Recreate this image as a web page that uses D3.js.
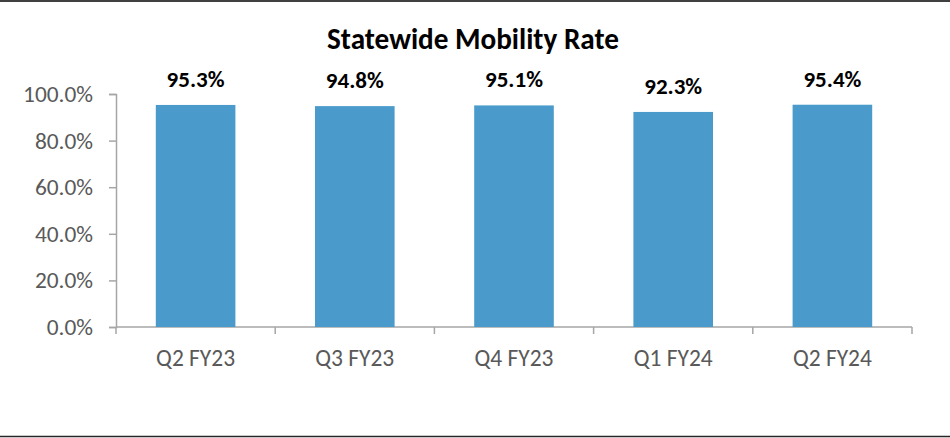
<!DOCTYPE html>
<html>
<head>
<meta charset="utf-8">
<script src="https://cdn.jsdelivr.net/npm/d3@7"></script>
<style>
  body { margin: 0; background: #fff; }
  svg { display: block; font-family: Calibri, Carlito, Lato, sans-serif; }
</style>
</head>
<body>
<div id="chart"></div>
<script>
const categories = ["Q2 FY23", "Q3 FY23", "Q4 FY23", "Q1 FY24", "Q2 FY24"];
const rates = [95.3, 94.8, 95.1, 92.3, 95.4];
const yTicks = [0, 20, 40, 60, 80, 100];
const title = "Statewide Mobility Rate";

const W = 950, H = 438;
const margin = { top: 94, right: 38, bottom: 111, left: 116 };
const width = W - margin.left - margin.right;
const height = H - margin.top - margin.bottom;

const svg = d3.select("#chart")
  .append("svg")
  .attr("width", W)
  .attr("height", H);

// фит текста по ширине
function fit(sel, target) {
  sel.each(function () {
    const len = this.getComputedTextLength();
    const fs = parseFloat(d3.select(this).style("font-size"));
    d3.select(this).style("font-size", (fs * target / len) + "px");
  });
}

// рамка сверху и снизу
svg.append("line").attr("x1", 0).attr("x2", W).attr("y1", 1).attr("y2", 1)
  .attr("stroke", "#404040").attr("stroke-width", 2);
svg.append("line").attr("x1", 0).attr("x2", W).attr("y1", 436.5).attr("y2", 436.5)
  .attr("stroke", "#262626").attr("stroke-width", 1.5);

svg.append("text")
  .attr("x", 473)
  .attr("y", 49)
  .attr("text-anchor", "middle")
  .style("font-size", "24px")
  .style("font-weight", "bold")
  .attr("fill", "#000")
  .text(title)
  .call(fit, 292);

const g = svg.append("g")
  .attr("transform", `translate(${margin.left},${margin.top})`);

const x = d3.scaleBand()
  .domain(categories)
  .range([0, width])
  .paddingInner(0.5)
  .paddingOuter(0.25);

const y = d3.scaleLinear()
  .domain([0, 100])
  .range([height, 0]);

const axisColor = "#a6a6a6";

// Ось Y
const yAxis = g.append("g")
  .call(d3.axisLeft(y).tickValues(yTicks).tickSize(7).tickPadding(16)
    .tickFormat(d => d.toFixed(1) + "%"));
yAxis.select(".domain").attr("stroke", axisColor).attr("stroke-width", 1.5);
yAxis.selectAll(".tick line").attr("stroke", axisColor).attr("stroke-width", 1.5);
yAxis.selectAll(".tick text")
  .attr("fill", "#595959")
  .style("font-family", "Calibri, Carlito, Lato, sans-serif")
  .style("font-size", "20px");
yAxis.selectAll(".tick text").filter(d => d === 100).call(fit, 70);
const yfs = yAxis.selectAll(".tick text").filter(d => d === 100).style("font-size");
yAxis.selectAll(".tick text").style("font-size", yfs);

// Ось X
const xPos = d3.scaleLinear().domain([0, categories.length]).range([0, width]);
const xAxis = g.append("g")
  .attr("transform", `translate(0,${height})`);
xAxis.append("line")
  .attr("x1", 0).attr("x2", width)
  .attr("stroke", axisColor).attr("stroke-width", 1.5);
xAxis.selectAll(".sep")
  .data(d3.range(categories.length + 1))
  .enter()
  .append("line")
  .attr("x1", d => xPos(d)).attr("x2", d => xPos(d))
  .attr("y1", 0).attr("y2", 7)
  .attr("stroke", axisColor).attr("stroke-width", 1.5);
const xLabels = xAxis.selectAll(".lbl")
  .data(categories)
  .enter()
  .append("text")
  .attr("x", d => x(d) + x.bandwidth() / 2)
  .attr("y", 39)
  .attr("text-anchor", "middle")
  .attr("fill", "#595959")
  .style("font-size", "20px")
  .text(d => d);
xLabels.filter((d, i) => i === 0).call(fit, 79);
xLabels.style("font-size", xLabels.filter((d, i) => i === 0).style("font-size"));

// Столбцы
g.selectAll(".bar")
  .data(rates)
  .enter()
  .append("rect")
  .attr("class", "bar")
  .attr("x", (d, i) => x(categories[i]))
  .attr("y", d => y(d))
  .attr("width", x.bandwidth())
  .attr("height", d => height - y(d))
  .attr("fill", "#4a9bcb");

// Подписи значений
const vals = g.selectAll(".val")
  .data(rates)
  .enter()
  .append("text")
  .attr("x", (d, i) => x(categories[i]) + x.bandwidth() / 2)
  .attr("y", d => y(d) - 18)
  .attr("text-anchor", "middle")
  .style("font-size", "20px")
  .style("font-weight", "bold")
  .attr("fill", "#000")
  .text(d => d.toFixed(1) + "%");
vals.filter((d, i) => i === 0).call(fit, 58);
vals.style("font-size", vals.filter((d, i) => i === 0).style("font-size"));
</script>
</body>
</html>
